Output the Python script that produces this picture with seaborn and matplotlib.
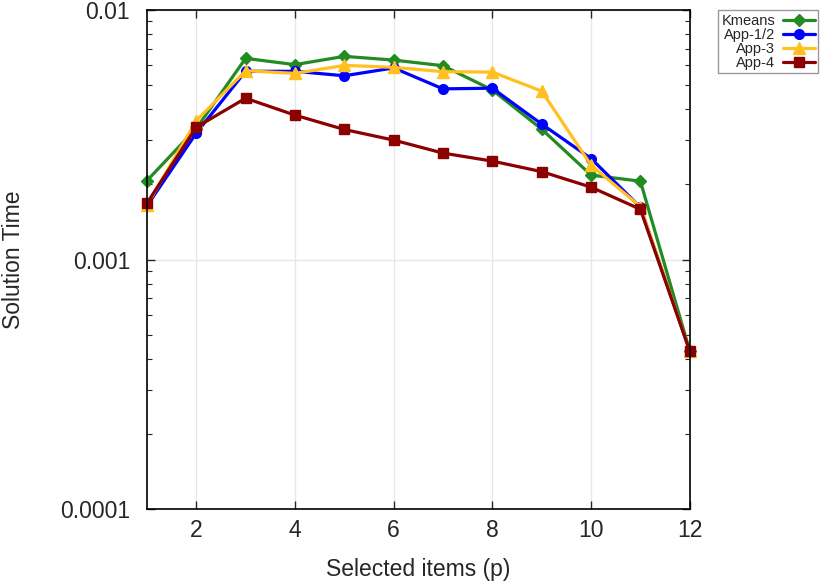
import numpy as np
import pandas as pd
import matplotlib
matplotlib.use('Agg')
import matplotlib.pyplot as plt
import seaborn as sns

# values
p_items = [1, 2, 3, 4, 5, 6, 7, 8, 9, 10, 11, 12]
kmeans = [2.07e-3, 3.35e-3, 6.40e-3, 6.04e-3, 6.52e-3, 6.30e-3, 5.98e-3, 4.78e-3, 3.33e-3, 2.18e-3, 2.06e-3, 4.3e-4]
app_12 = [1.64e-3, 3.21e-3, 5.68e-3, 5.68e-3, 5.45e-3, 5.86e-3, 4.83e-3, 4.86e-3, 3.49e-3, 2.54e-3, 1.62e-3, 4.3e-4]
app_3 = [1.65e-3, 3.60e-3, 5.71e-3, 5.57e-3, 6.00e-3, 5.89e-3, 5.66e-3, 5.64e-3, 4.73e-3, 2.39e-3, 1.63e-3, 4.3e-4]
app_4 = [1.68e-3, 3.39e-3, 4.43e-3, 3.79e-3, 3.32e-3, 3.01e-3, 2.67e-3, 2.48e-3, 2.25e-3, 1.95e-3, 1.59e-3, 4.3e-4]

series_names = ['Kmeans', 'App-1/2', 'App-3', 'App-4']
series_vals = [kmeans, app_12, app_3, app_4]
colors = ['#228b22', '#0000ff', '#ffc020', '#8b0000']
markers = ['D', 'o', '^', 's']
msizes = [6.5, 7, 8, 7]

sns.set_style('ticks')
plt.rcParams['font.family'] = ['Liberation Sans', 'DejaVu Sans']

fig = plt.figure(figsize=(8.3, 5.82), dpi=100)
ax = fig.add_axes([0.177, 0.1254, 0.654, 0.8574])

handles = []
for name, vals, c, m, ms in zip(series_names, series_vals, colors, markers, msizes):
    df = pd.DataFrame({'p': p_items, 't': vals})
    sns.lineplot(data=df, x='p', y='t', ax=ax, color=c, marker=m, markersize=ms,
                 markeredgecolor=c, markeredgewidth=1, linewidth=2.3, label=name,
                 legend=False, clip_on=False)
    handles.append(ax.lines[-1])

ax.set_yscale('log')
ax.set_ylim(1e-4, 1e-2)
ax.set_xlim(1, 12)
ax.set_xticks([2, 4, 6, 8, 10, 12])
ax.set_yticks([1e-4, 1e-3, 1e-2])
ax.set_yticklabels(['0.0001', '0.001', '0.01'])
ax.yaxis.set_minor_locator(matplotlib.ticker.LogLocator(base=10, subs=np.arange(2, 10)))
ax.yaxis.set_minor_formatter(matplotlib.ticker.NullFormatter())

ax.grid(True, which='major', color='#e6e6e6', linewidth=0.9)
ax.set_axisbelow(True)
for s in ax.spines.values():
    s.set_visible(True)
    s.set_color('black')
    s.set_linewidth(1.2)

ax.tick_params(which='both', direction='in', top=True, right=True, labelsize=16.5)
ax.tick_params(which='major', length=6, width=1)
ax.tick_params(which='minor', length=3.5, width=0.8)
ax.tick_params(axis='y', which='major', pad=12)
ax.tick_params(axis='x', which='major', pad=7)

ax.set_xlabel('Selected items (p)', fontsize=16.5, labelpad=12)
ax.set_ylabel('Solution Time', fontsize=16.5, labelpad=25)

leg = ax.legend(handles=handles, labels=series_names, loc='upper left',
                bbox_to_anchor=(1.052, 1.0), markerfirst=False, fontsize=10.5,
                frameon=True, fancybox=False, edgecolor='#808080',
                handlelength=2.2, handletextpad=0.5, labelspacing=0.0,
                borderpad=0.25, borderaxespad=0.0)
leg.get_frame().set_linewidth(1.0)

fig.savefig('out.png', dpi=100)
